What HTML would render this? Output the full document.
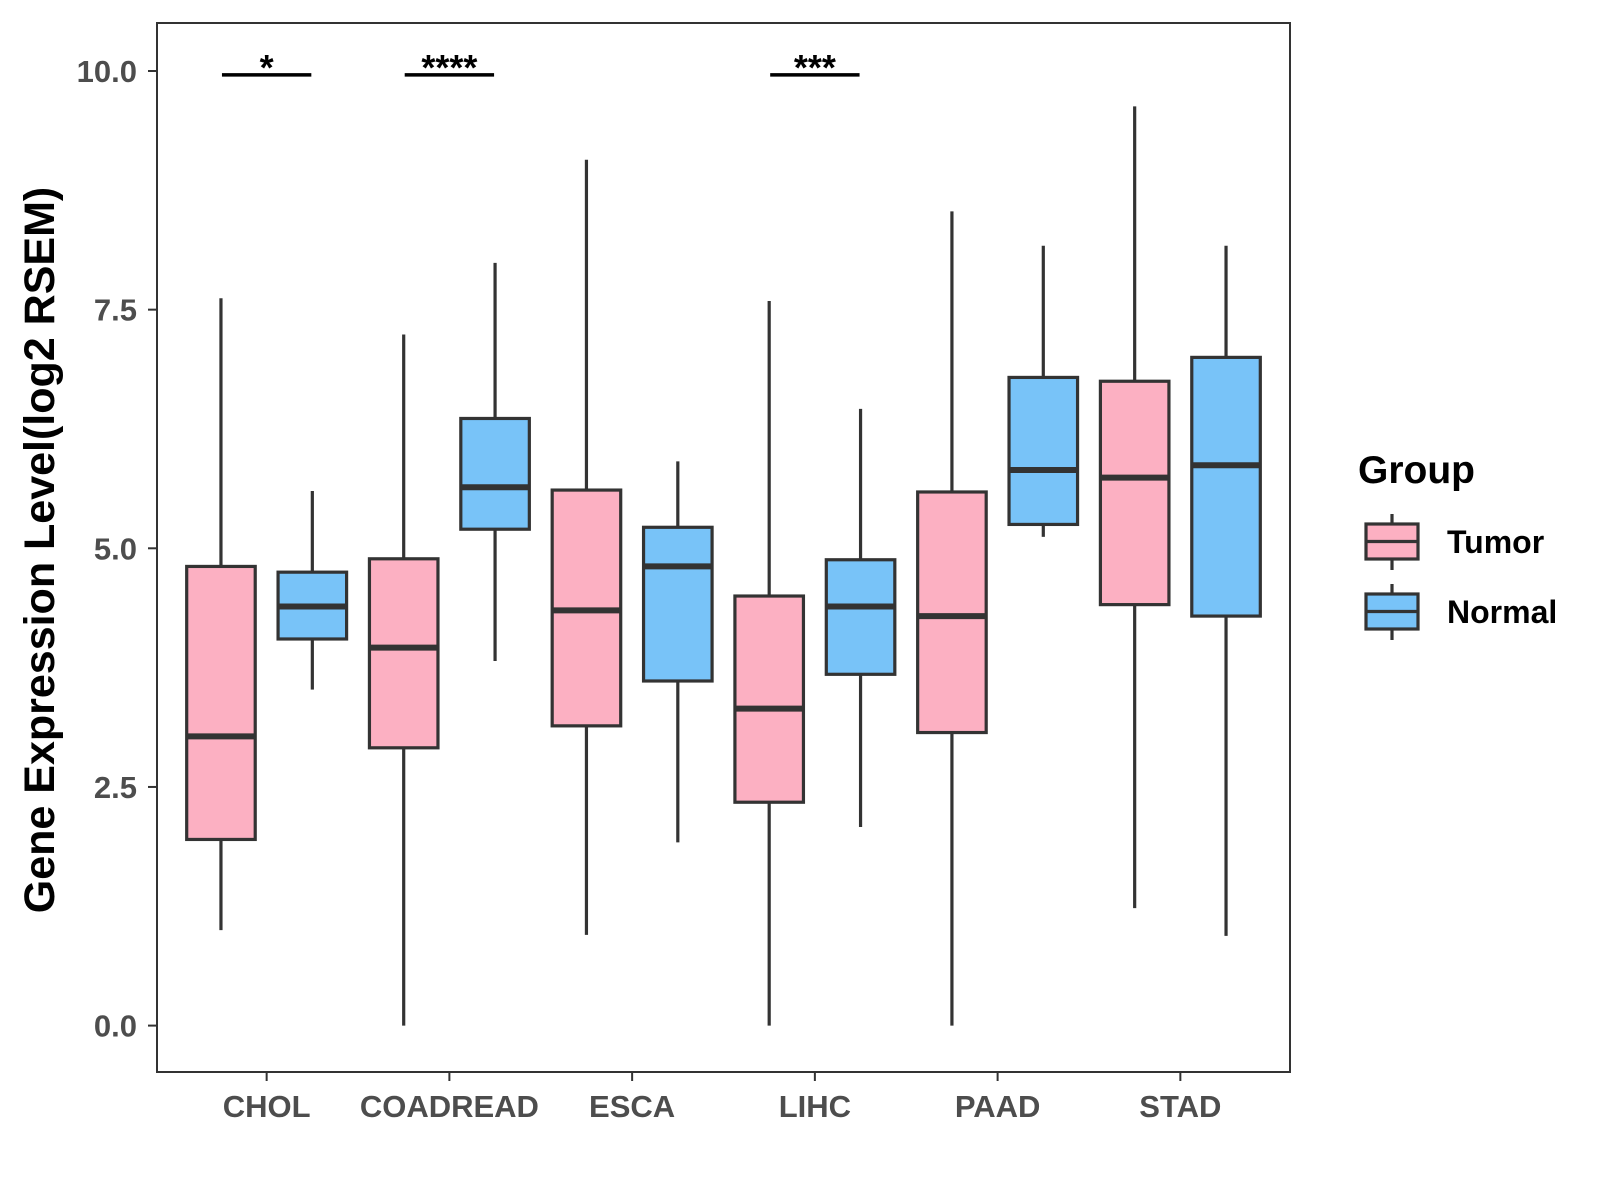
<!DOCTYPE html>
<html><head><meta charset="utf-8"><style>
html,body{margin:0;padding:0;background:#fff;}
svg{display:block;font-family:"Liberation Sans",Arial,sans-serif;}
</style></head><body>
<svg id="chart" width="1600" height="1200"></svg>
<script>
const categories=["CHOL","COADREAD","ESCA","LIHC","PAAD","STAD"];
const groups=["Tumor","Normal"];
// [min, q1, median, q3, max]
const tumorStats=[[1.0,1.95,3.03,4.81,7.62],[0,2.91,3.96,4.89,7.24],[0.95,3.14,4.35,5.61,9.07],[0,2.34,3.32,4.5,7.59],[0,3.07,4.29,5.59,8.53],[1.23,4.41,5.74,6.75,9.63]];
const normalStats=[[3.52,4.05,4.39,4.75,5.6],[3.82,5.2,5.64,6.36,7.99],[1.92,3.61,4.81,5.22,5.91],[2.08,3.68,4.39,4.88,6.46],[5.12,5.25,5.82,6.79,8.17],[0.94,4.29,5.87,7.0,8.17]];
const yTicks=[0,2.5,5,7.5,10];
const yTickLabels=["0.0","2.5","5.0","7.5","10.0"];
const sigCats=["CHOL","COADREAD","LIHC"];
const sigLabels=["*","****","***"];
const sigLevel=9.98;

const NS="http://www.w3.org/2000/svg";
const svg=document.getElementById("chart");
const colors={Tumor:"#FCB0C2",Normal:"#78C3F8"};
const L=157,R=1290,T=23,B=1072;
const step=(R-L)/6.2;
function xScale(i){return L+step*(0.6+i);}
function yScale(v){return 1025.6-95.46*v;}
function mk(tag,attrs,parent){const e=document.createElementNS(NS,tag);for(const k in attrs)e.setAttribute(k,attrs[k]);(parent||svg).appendChild(e);return e;}

const plot=mk("g",{});


const bw=step*0.375, off=step*0.25;
function drawBox(s,cx,fill,name){
  const g=mk("g",{},plot);
  
  
  mk("line",{x1:cx,x2:cx,y1:yScale(s[0]),y2:yScale(s[1]),stroke:"#333",'stroke-width':3.2},g);
  mk("line",{x1:cx,x2:cx,y1:yScale(s[3]),y2:yScale(s[4]),stroke:"#333",'stroke-width':3.2},g);
  mk("rect",{x:cx-bw/2,y:yScale(s[3]),width:bw,height:yScale(s[1])-yScale(s[3]),fill:fill,stroke:"#333",'stroke-width':3.2},g);
  mk("line",{x1:cx-bw/2,x2:cx+bw/2,y1:yScale(s[2]),y2:yScale(s[2]),stroke:"#333",'stroke-width':6},g);
}
categories.forEach((c,i)=>{
  drawBox(tumorStats[i],xScale(i)-off,colors.Tumor,"box-tumor-"+c.toLowerCase());
  drawBox(normalStats[i],xScale(i)+off,colors.Normal,"box-normal-"+c.toLowerCase());
});
sigCats.forEach((c,j)=>{
  const i=categories.indexOf(c);
  const g=mk("g",{},plot);
  
  
  const y=yScale(sigLevel)+2;
  mk("line",{x1:xScale(i)-off+1,x2:xScale(i)+off-1,y1:y,y2:y,stroke:"#000",'stroke-width':3.5},g);
  const t=mk("text",{x:xScale(i),y:y+5,'text-anchor':"middle",'font-size':36,'font-weight':"bold",fill:"#000"},g);
  t.textContent=sigLabels[j];
});
const frame=mk("rect",{x:L,y:T,width:R-L,height:B-T,fill:"none",stroke:"#333",'stroke-width':2});



const yax=mk("g",{});


yTicks.forEach((v,k)=>{
  mk("line",{x1:148,x2:157,y1:yScale(v),y2:yScale(v),stroke:"#333",'stroke-width':2},yax);
  const t=mk("text",{x:137,y:yScale(v)+11,'text-anchor':"end",'font-size':31,'font-weight':"bold",fill:"#4d4d4d"},yax);
  
  
  t.textContent=yTickLabels[k];
});
const xax=mk("g",{});


categories.forEach((c,i)=>{
  mk("line",{x1:xScale(i),x2:xScale(i),y1:B,y2:B+9,stroke:"#333",'stroke-width':2},xax);
  const t=mk("text",{x:xScale(i),y:1117,'text-anchor':"middle",'font-size':31,'font-weight':"bold",fill:"#4d4d4d"},xax);
  
  
  t.textContent=c;
});
const yt=mk("text",{x:0,y:0,transform:"translate(54,550) rotate(-90)",'text-anchor':"middle",'font-size':43,'font-weight':"bold",fill:"#000"});


yt.textContent="Gene Expression Level(log2 RSEM)";

const lg=mk("g",{});


const lt=mk("text",{x:1358,y:483,'font-size':39,'font-weight':"bold",fill:"#000"},lg);


lt.textContent="Group";
groups.forEach((gname,k)=>{
  const e=mk("g",{},lg);
  
  
  const top=524+k*70, h=35, cx=1392;
  mk("line",{x1:cx,x2:cx,y1:top-10,y2:top+h+11,stroke:"#333",'stroke-width':3.2},e);
  mk("rect",{x:1366,y:top,width:52,height:h,fill:colors[gname],stroke:"#333",'stroke-width':3.2},e);
  mk("line",{x1:1366,x2:1418,y1:top+h/2,y2:top+h/2,stroke:"#333",'stroke-width':3.2},e);
  const t=mk("text",{x:1447,y:top+29,'font-size':32,'font-weight':"bold",fill:"#000"},e);
  t.textContent=gname;
});
</script>
</body></html>
